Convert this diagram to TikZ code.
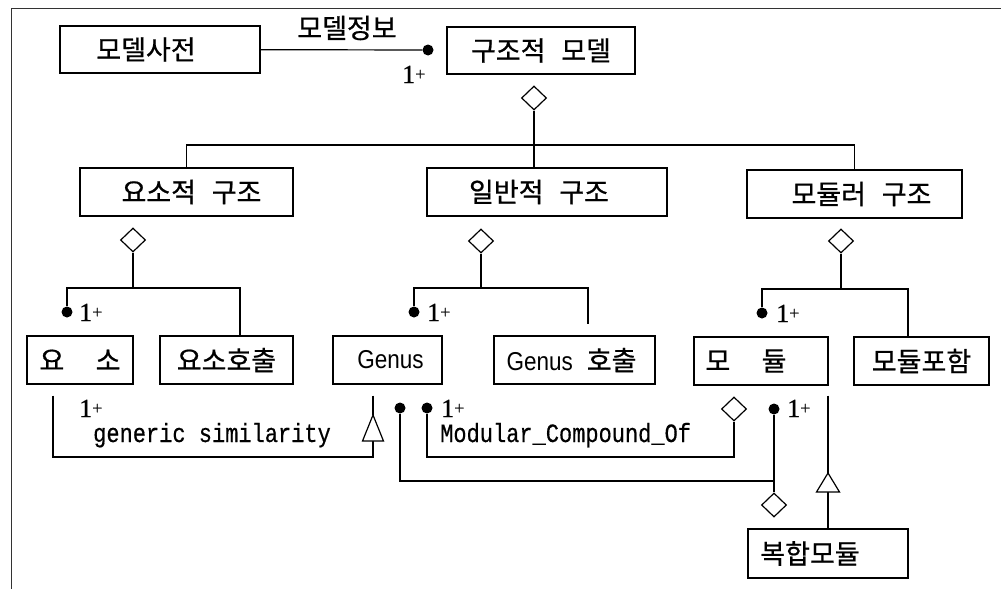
\documentclass[tikz,border=0pt]{standalone}
\usepackage{fontspec}
\usepackage{graphicx}
\setmainfont{Liberation Serif}
\newfontfamily\kr[WordSpace=2.6,FakeBold=0.7]{Noto Sans CJK KR}
\newfontfamily\gsans{Liberation Sans}
\newfontfamily\mono[FakeBold=0.5]{Liberation Mono}
\newfontfamily\numfont[FakeBold=0.8]{Liberation Serif}
\usetikzlibrary{shapes.geometric}
% shifts a box caption sideways by #1 pt
\newcommand\offs[2]{\hspace*{#1pt}\hspace*{#1pt}#2}
% multiplicity "1+"
\newcommand\many{{\numfont\fontsize{26}{26}\selectfont 1}\raisebox{3pt}{\numfont\fontsize{18}{18}\selectfont +}}
% Latin caption inside a box
\newcommand\lat[1]{\scalebox{1}[1.15]{\gsans\fontsize{22.5}{26}\selectfont #1}}
\begin{document}
\begin{tikzpicture}[x=1pt,y=-1pt,
  box/.style={draw,line width=1.4pt,inner sep=0pt,minimum height=48pt,
    font=\kr\fontsize{27}{30}\selectfont},
  conn/.style={line width=1.2pt},
  agg/.style={draw,diamond,line width=1.2pt,inner sep=0pt,minimum width=25pt,minimum height=24pt,fill=white},
  dot/.style={circle,fill=black,inner sep=0pt,minimum size=11pt},
  many/.style={anchor=base west,inner sep=0pt},
  lbl/.style={inner sep=0pt,font=\mono\fontsize{22}{24}\selectfont},
  tri/.style={line width=1.2pt,fill=white},
  frame/.style={line width=0.9pt,black!80}]
\useasboundingbox (0,0) rectangle (1001,589);

% outer frame (top and left edges)
\draw[frame] (1001,8) -- (11,8) -- (11,589);

% classes
\node[box,minimum width=200pt,minimum height=47pt] (dict) at (160,49.5) {\offs{-14}{모델사전}};
\node[box,minimum width=188pt,minimum height=47pt] (smodel) at (541,50.5) {구조적 모델};
\node[box,minimum width=213pt] (elem) at (186.5,192) {\offs{5}{요소적 구조}};
\node[box,minimum width=240pt] (gen) at (547,192) {\offs{-8}{일반적 구조}};
\node[box,minimum width=215pt] (mod) at (854.5,194) {\offs{7}{모듈러 구조}};
\node[box,minimum width=106pt] (yoso) at (80,360) {요\ \ 소};
\node[box,minimum width=133pt] (yosocall) at (226.5,360) {요소호출};
\node[box,minimum width=109pt] (genus) at (387.5,360) {\offs{3}{\lat{Genus}}};
\node[box,minimum width=161pt] (genuscall) at (574.5,360) {\offs{-3}{\lat{Genus}\hspace{14pt}호출}};
\node[box,minimum width=134pt] (modul) at (761,361) {\offs{-15}{모\ \ 듈}};
\node[box,minimum width=135pt] (modincl) at (921.5,361) {모듈포함};
\node[box,minimum width=160pt,minimum height=49pt] (comp) at (828,553.5) {\offs{-18}{복합모듈}};

% 모델정보 association
\node[dot] (p1) at (428,50) {};
\draw[conn] (dict) -- (p1);
\node[inner sep=0pt,font=\kr\fontsize{27}{30}\selectfont] (info) at (347,28) {모델정보};
\node[many] (m0) at (402,83) {\many};

% 구조적 모델 aggregation tree
\node[agg] (d0) at (534,98) {};
\coordinate (j0) at (534,145);
\draw[conn] (d0.south) -- (d0.south |- gen.north);
\draw[conn] (elem.north) |- (j0) -| (mod.north);

% 요소적 구조 aggregation
\node[agg] (d1) at (133,240) {};
\node[dot] (q1) at (67,312) {};
\coordinate (j1) at (133,288);
\coordinate (e1) at (240,288);
\draw[conn] (d1.south) -- (j1);
\draw[conn] (q1) |- (e1) -- (e1 |- yosocall.north);
\node[many] (m1) at (79,321) {\many};

% 일반적 구조 aggregation
\node[agg] (d2) at (481,241) {};
\node[dot] (q2) at (414,312) {};
\coordinate (j2) at (481,288);
\coordinate (e2) at (588,288);
\draw[conn] (d2.south) -- (j2);
\draw[conn,shorten >=11pt] (q2) |- (e2) -- (e2 |- genuscall.north);
\node[many] (m2) at (427,321) {\many};

% 모듈러 구조 aggregation
\node[agg] (d3) at (841,241) {};
\node[dot] (q3) at (762,313) {};
\coordinate (j3) at (841,289);
\coordinate (e3) at (908,289);
\draw[conn] (d3.south) -- (j3);
\draw[conn] (q3) |- (e3) -- (e3 |- modincl.north);
\node[many] (m3) at (776,322) {\many};

% generic similarity: 요 소 -> Genus
\coordinate (t1) at (373,415);
\coordinate (t1b) at (373,441);
\coordinate (ga) at (53,457);
\coordinate (gb) at (373,457);
\draw[conn,shorten <=11pt] (yoso.south -| ga) -- (ga) -- (gb) -- (t1b);
\draw[conn,shorten <=11pt] (genus.south -| t1) -- (t1);
\draw[tri] (t1) -- ++(-10.5,26) -- ++(21,0) -- cycle;
\node[many] (m4) at (79,417) {\many};
\node[lbl,anchor=base west] (gs) at (93,442) {\scalebox{1}[1.2]{generic similarity}};

% Modular_Compound_Of: Genus -> 모 듈
\node[dot] (r1) at (400,408) {};
\node[dot] (r2) at (427,408) {};
\node[many] (m5) at (441,417) {\many};
\node[agg] (d4) at (734,409) {};
\coordinate (mc) at (734,457);
\draw[conn] (r2) |- (mc) -- (d4.south);
\node[lbl,anchor=base west] (mco) at (440,442) {\scalebox{1}[1.2]{Modular\_Compound\_Of}};

% 복합모듈 aggregates Genus and 모 듈
\node[dot] (q4) at (774,409) {};
\node[many] (m6) at (787,417) {\many};
\node[agg] (d5) at (774,505) {};
\coordinate (k1) at (774,481);
\draw[conn] (q4) -- (d5.north);
\draw[conn] (r1) |- (k1);

% 복합모듈 is a 모 듈
\coordinate (t2) at (828,473);
\coordinate (t2b) at (828,492);
\draw[conn,shorten <=10pt] (modul.south -| t2) -- (t2);
\draw[conn] (t2b) -- (comp.north);
\draw[tri] (t2) -- ++(-11.5,19) -- ++(23,0) -- cycle;
\end{tikzpicture}
\end{document}
